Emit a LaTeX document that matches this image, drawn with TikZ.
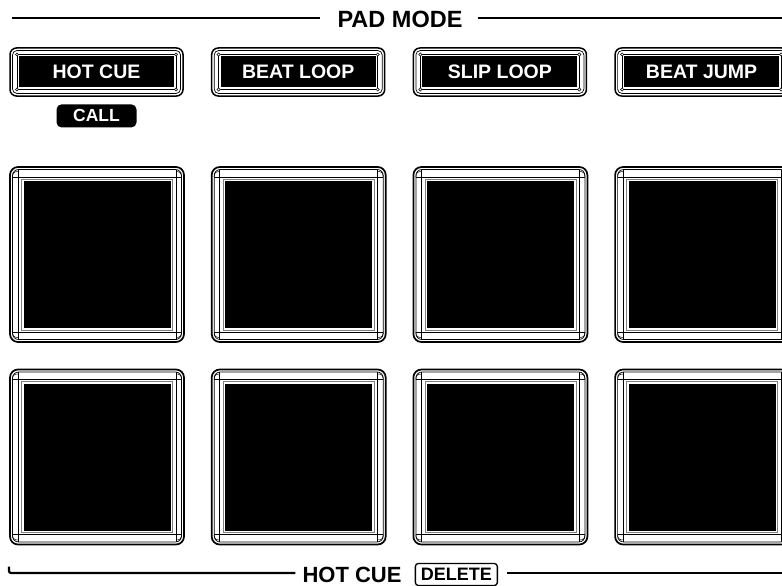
\documentclass[tikz,border=0pt]{standalone}
\usepackage{fontspec}
\setmainfont{Liberation Sans}
\usetikzlibrary{positioning}

\begin{document}
\begin{tikzpicture}[x=1pt, y=-1pt,
 sect/.style={line width=2.2pt},
 rim/.style={line width=0.5pt},
 bezel/.style={line width=1.7pt},
 modebtn/.style={fill=black, text=white, minimum width=155pt, minimum height=31pt, inner sep=0pt, font=\bfseries\fontsize{19.5}{24}\selectfont},
 padface/.style={fill=black, minimum width=147pt, minimum height=147pt, inner sep=0pt},
 tag/.style={fill=black, text=white, rounded corners=5pt, minimum width=80pt, minimum height=23pt, inner sep=0pt, font=\bfseries\fontsize{17.5}{20}\selectfont},
 title/.style={font=\bfseries\fontsize{23.5}{26}\selectfont, inner sep=0pt},
 footer/.style={font=\bfseries\fontsize{22}{24}\selectfont, inner sep=0pt},
 delbox/.style={draw, line width=1.3pt, rounded corners=3pt, minimum width=82pt, minimum height=22pt, inner sep=0pt, font=\bfseries\fontsize{18}{20}\selectfont}]

 \useasboundingbox (0,0) rectangle (782,586);
 \clip (0,0) rectangle (782,586);

 % --- mode buttons and pads ---
 \foreach \c/\lbl in {0/HOT CUE,1/BEAT LOOP,2/SLIP LOOP,3/BEAT JUMP}{
 \begin{scope}[shift={(201.7*\c,0)}]
  \node[modebtn] (btn\c) at (96.5,72) {\lbl};
  \draw[rim] (17,54.5) rectangle (176,89.5);
  \foreach \p in {(17,54.5),(176,54.5),(17,89.5),(176,89.5)}
   \draw[rim, fill=white] \p circle (1.6);
  \draw[line width=0.7pt, rounded corners=4.5pt] (12.5,50.5) rectangle (180.5,93.5);
  \draw[line width=1.5pt, rounded corners=6.5pt] (10,48) rectangle (183,96);
  \foreach \r in {0,1}{
  \begin{scope}[shift={(0,202.5*\r)}]
   \node[padface] (pad\r\c) at (97,254.5) {};
   \draw[rim, gray] (21.5,179) rectangle (172.5,330);
   \draw[rim] (18,169.5) -- (18,339.5) (176,169.5) -- (176,339.5)
    (12.5,177) -- (181.5,177) (12.5,332) -- (181.5,332);
   \draw[rim] (12.5,177) .. controls (12.5,173) and (14,171.5) .. (18,171.5)
    (181.5,177) .. controls (181.5,173) and (180,171.5) .. (176,171.5)
    (12.5,332) .. controls (12.5,336) and (14,337.5) .. (18,337.5)
    (181.5,332) .. controls (181.5,336) and (180,337.5) .. (176,337.5);
   \draw[line width=0.7pt, rounded corners=6pt] (12.5,169.5) rectangle (181.5,339.5);
   \draw[bezel, rounded corners=8pt] (10,167) rectangle (184,342);
  \end{scope}}
 \end{scope}}

 \node[tag, below=16.5pt of btn0] (call) {CALL};

 % --- section lines ---
 \node[title] (padmode) at (400,19.5) {PAD MODE};
 \coordinate (topL) at (12,18);
 \coordinate (topR) at (784,18);
 \draw[sect, shorten >=17pt] (topL) -- (topL -| padmode.west);
 \draw[sect, shorten <=15pt] (topL -| padmode.east) -- (topR);

 \node[footer] (hotcue) at (352,574.5) {HOT CUE};
 \node[delbox, right=13pt of hotcue] (delete) {DELETE};
 \coordinate (hook) at (9,566.5);
 \coordinate (botL) at (9,573);
 \coordinate (botR) at (784,573);
 \draw[sect, rounded corners=2pt, shorten >=7pt] (hook) -- (botL) -- (botL -| hotcue.west);
 \draw[sect, shorten <=9pt] (botL -| delete.east) -- (botR);
\end{tikzpicture}
\end{document}
